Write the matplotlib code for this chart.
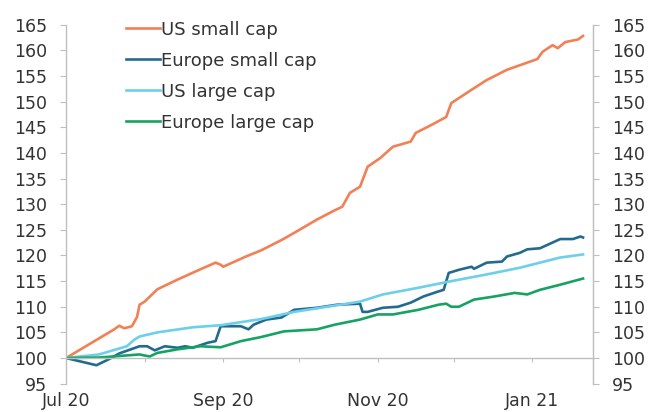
import matplotlib
matplotlib.use("Agg")
import matplotlib.pyplot as plt
import numpy as np
import pandas as pd

# 数据：近似值（2020-07-01 = 100）
us_small_dates = ["2020-07-01", "2020-07-20", "2020-07-22", "2020-07-24", "2020-07-27", "2020-07-29",
                  "2020-07-30", "2020-08-01", "2020-08-06", "2020-08-14", "2020-08-23", "2020-08-29",
                  "2020-08-31", "2020-09-01", "2020-09-10", "2020-09-16", "2020-09-24", "2020-09-29",
                  "2020-10-08", "2020-10-15", "2020-10-18", "2020-10-21", "2020-10-25", "2020-10-28",
                  "2020-11-02", "2020-11-07", "2020-11-14", "2020-11-16", "2020-11-22", "2020-11-28",
                  "2020-11-30", "2020-12-08", "2020-12-14", "2020-12-22", "2021-01-03", "2021-01-05",
                  "2021-01-09", "2021-01-11", "2021-01-14", "2021-01-19", "2021-01-21"]
us_small = [100, 105.6, 106.3, 105.8, 106.2, 108, 110.4, 111, 113.4, 115.3, 117.3, 118.6,
            118.2, 117.8, 119.8, 121, 123, 124.4, 127, 128.8, 129.5, 132.2, 133.4, 137.3,
            139, 141.2, 142.2, 143.9, 145.4, 147, 149.7, 152.3, 154.2, 156.2, 158.3, 159.7,
            161, 160.4, 161.6, 162.1, 162.8]

eu_small_dates = ["2020-07-01", "2020-07-13", "2020-07-18", "2020-07-22", "2020-07-30", "2020-08-02",
                  "2020-08-05", "2020-08-09", "2020-08-14", "2020-08-17", "2020-08-20", "2020-08-26",
                  "2020-08-29", "2020-08-31", "2020-09-08", "2020-09-11", "2020-09-13", "2020-09-18",
                  "2020-09-24", "2020-09-29", "2020-10-08", "2020-10-16", "2020-10-25", "2020-10-26",
                  "2020-10-28", "2020-11-03", "2020-11-09", "2020-11-14", "2020-11-19", "2020-11-25",
                  "2020-11-27", "2020-11-29", "2020-12-03", "2020-12-08", "2020-12-09", "2020-12-14",
                  "2020-12-20", "2020-12-22", "2020-12-27", "2020-12-30", "2021-01-04", "2021-01-12",
                  "2021-01-17", "2021-01-20", "2021-01-21"]
eu_small = [100, 98.6, 99.8, 100.9, 102.3, 102.3, 101.5, 102.3, 102, 102.3, 102, 103,
            103.3, 106.2, 106.2, 105.6, 106.5, 107.5, 107.9, 109.4, 109.8, 110.4, 110.6, 109,
            109, 109.8, 110, 110.8, 112, 113, 113.3, 116.6, 117.2, 117.8, 117.4, 118.6,
            118.8, 119.8, 120.5, 121.2, 121.4, 123.2, 123.2, 123.7, 123.5]

us_large_dates = ["2020-07-01", "2020-07-14", "2020-07-25", "2020-07-28", "2020-07-30", "2020-08-06",
                  "2020-08-20", "2020-08-31", "2020-09-16", "2020-09-29", "2020-10-25", "2020-11-03",
                  "2020-11-17", "2020-11-29", "2020-12-14", "2020-12-27", "2021-01-04", "2021-01-12",
                  "2021-01-21"]
us_large = [100, 100.7, 102.3, 103.6, 104.2, 105, 106, 106.4, 107.6, 109, 111, 112.4,
            113.7, 114.9, 116.3, 117.6, 118.6, 119.6, 120.2]

eu_large_dates = ["2020-07-01", "2020-07-14", "2020-07-30", "2020-08-03", "2020-08-06", "2020-08-14",
                  "2020-08-23", "2020-08-31", "2020-09-08", "2020-09-16", "2020-09-25", "2020-10-08",
                  "2020-10-15", "2020-10-25", "2020-11-01", "2020-11-07", "2020-11-17", "2020-11-25",
                  "2020-11-28", "2020-11-30", "2020-12-03", "2020-12-09", "2020-12-17", "2020-12-25",
                  "2020-12-30", "2021-01-04", "2021-01-12", "2021-01-21"]
eu_large = [100, 100.1, 100.7, 100.3, 101, 101.7, 102.3, 102.1, 103.3, 104.1, 105.2, 105.6,
            106.5, 107.5, 108.5, 108.5, 109.4, 110.4, 110.6, 110, 110, 111.4, 112, 112.7,
            112.4, 113.3, 114.3, 115.5]

labels = ["US small cap", "Europe small cap", "US large cap", "Europe large cap"]
colors = ["#F28055", "#236B8E", "#6DCFEA", "#16A263"]
x_labels = ["Jul 20", "", "Sep 20", "", "Nov 20", "", "Jan 21"]

TEXT = "#333333"
AXIS = "#BFBFBF"

plt.rcParams.update({
    "font.family": ["DejaVu Sans"],
    "font.size": 12.5,
})

fig = plt.figure(figsize=(6.54, 4.12), dpi=100)
ax = fig.add_axes([0.101, 0.0687, 0.806, 0.8715])

series = [(us_small_dates, us_small), (eu_small_dates, eu_small),
          (us_large_dates, us_large), (eu_large_dates, eu_large)]
for (d, v), lab, c in zip(series, labels, colors):
    ax.plot(pd.to_datetime(d), v, color=c, linewidth=1.9, label=lab,
            solid_joinstyle="round")

ax.set_ylim(95, 165)
ax.set_yticks(np.arange(95, 166, 5))
ax.set_xlim(pd.Timestamp("2020-07-01"), pd.Timestamp("2021-01-25"))
month_ticks = pd.date_range("2020-07-01", "2021-01-01", freq="MS")
ax.set_xticks(month_ticks)
ax.set_xticklabels(x_labels)

# x 轴线画在 100 处
ax.spines["bottom"].set_position(("data", 100))
ax.spines["top"].set_visible(False)
for s in ["bottom", "left", "right"]:
    ax.spines[s].set_color(AXIS)
    ax.spines[s].set_linewidth(1.0)
ax.tick_params(axis="x", direction="out", length=3, color=AXIS, pad=21.5, labelcolor=TEXT)
ax.tick_params(axis="y", direction="out", length=4.5, color=AXIS, labelcolor=TEXT, pad=9)

ax2 = ax.twinx()
ax2.set_ylim(95, 165)
ax2.set_yticks(np.arange(95, 166, 5))
ax2.spines["top"].set_visible(False)
ax2.spines["left"].set_visible(False)
ax2.spines["bottom"].set_visible(False)
ax2.spines["right"].set_color(AXIS)
ax2.tick_params(axis="y", direction="out", length=4.5, color=AXIS, labelcolor=TEXT, pad=9)

h, l = ax.get_legend_handles_labels()
fig.legend(h, l, loc="upper left", bbox_to_anchor=(0.193, 0.95), frameon=False,
           handlelength=1.85, handletextpad=0.05, labelspacing=0.72, borderpad=0,
           borderaxespad=0, fontsize=13, labelcolor=TEXT)

fig.savefig("out.png", dpi=100, facecolor="white")
